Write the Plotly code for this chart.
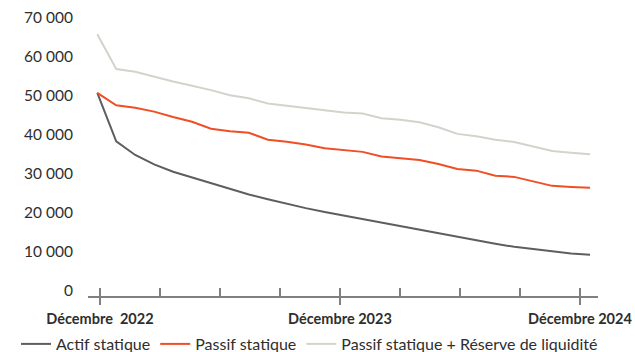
import plotly.graph_objects as go

# ---- data ----
idx = list(range(27))
actif = [50700, 38300, 34800, 32400, 30500, 29000, 27500, 26000, 24700, 23500,
         22300, 21200, 20200, 19300, 18500, 17500, 16600, 15700, 14800, 13800,
         13000, 12100, 11300, 10700, 10100, 9600, 9300]
passif = [50700, 47500, 46900, 45900, 44500, 43300, 41500, 40900, 40500, 38700,
          38200, 37500, 36500, 36000, 35600, 34400, 34000, 33500, 32500, 31200,
          30800, 29500, 29200, 28100, 26900, 26600, 26400]
reserve = [65700, 56800, 56100, 54800, 53600, 52500, 51400, 50100, 49300, 48000,
           47400, 46800, 46200, 45700, 45400, 44200, 43800, 43200, 41900, 40200,
           39600, 38700, 38100, 36900, 35800, 35400, 35000]
series_names = ["Actif statique", "Passif statique", "Passif statique + Réserve de liquidité"]
y_ticks = [0, 10000, 20000, 30000, 40000, 50000, 60000, 70000]
major_labels = ["Décembre\u00a0 2022", "Décembre 2023", "Décembre 2024"]

# ---- layout helpers ----
TICK0 = 0.14
DTICK = 3.166          # quarterly tick step in point units
all_ticks = [TICK0 + k * DTICK for k in range(9)]
major_ticks = [all_ticks[0], all_ticks[4], all_ticks[8]]
XR = [-0.49, 26.42]
YR = [-1280, 71900]

colors = ["#5e5e5e", "#f04e23", "#d4d3cb"]
FONT = "Lato"
TXT = "#2e2e2e"
AX = "#808080"

W, H = 635, 352
ML, MT, MB = 88, 10, 56
PLOT_RIGHT = 598
gs_w = W - ML            # right margin 0, domain trims the plot
PH = H - MT - MB

fig = go.Figure()
for name, vals, col in zip(series_names, [actif, passif, reserve], colors):
    fig.add_trace(go.Scatter(x=idx, y=vals, mode="lines", name=name,
                             line=dict(color=col, width=2)))
fig.add_trace(go.Scatter(x=[], y=[], xaxis="x2", showlegend=False, hoverinfo="skip"))

dom = [0, (PLOT_RIGHT - ML) / gs_w]

fig.update_layout(
    width=W, height=H,
    margin=dict(l=ML, r=0, t=MT, b=MB, autoexpand=False),
    paper_bgcolor="white", plot_bgcolor="white",
    font=dict(family=FONT, color=TXT, size=14),
    xaxis=dict(domain=dom, range=XR, tickvals=major_ticks, ticktext=major_labels,
               ticks="outside", ticklen=7, tickwidth=1.5, tickcolor=AX,
               showline=True, linecolor=AX, linewidth=1.5,
               showgrid=False, zeroline=False,
               tickfont=dict(family=FONT, size=14.5, color=TXT, weight="bold"),
               ticklabelstandoff=2),
    xaxis2=dict(domain=dom, range=XR, overlaying="x", anchor="y", side="bottom",
                tickvals=all_ticks, ticks="inside", ticklen=8, tickwidth=1.5,
                tickcolor=AX, showticklabels=False, showline=False,
                showgrid=False, zeroline=False),
    yaxis=dict(range=YR, tickvals=y_ticks,
               ticktext=[f"{v:,}".replace(",", " ") for v in y_ticks],
               showline=False, showgrid=False, zeroline=False, ticks="",
               tickfont=dict(family=FONT, size=15.5, color=TXT),
               ticklabelstandoff=14),
    legend=dict(orientation="h",
                x=(16 - ML) / gs_w, xanchor="left",
                y=(MT + PH - 327) / PH, yanchor="top",
                font=dict(family=FONT, size=16, color=TXT),
                itemwidth=30, bgcolor="rgba(0,0,0,0)"),
    showlegend=True,
)

fig.write_html("out.html")
